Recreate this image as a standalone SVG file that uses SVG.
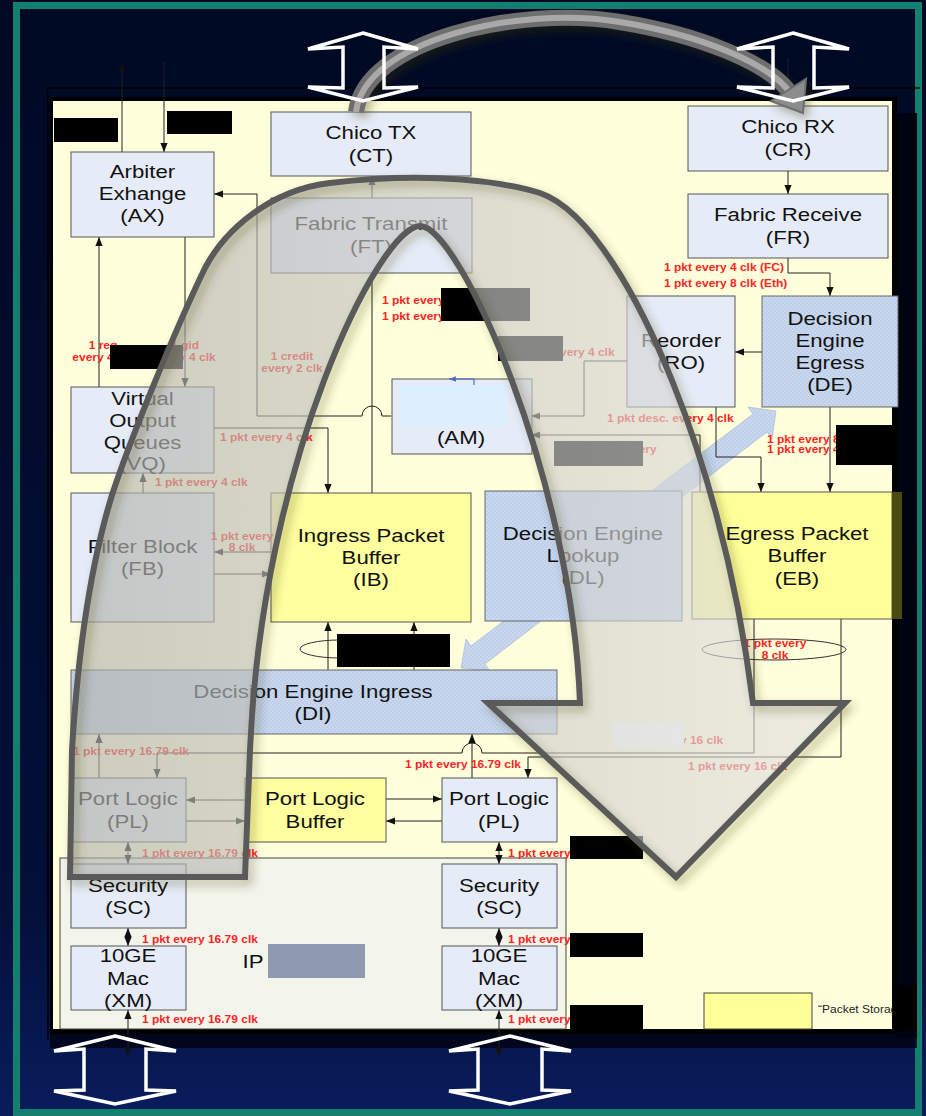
<svg xmlns="http://www.w3.org/2000/svg" width="926" height="1116" viewBox="0 0 926 1116">
<defs>
<linearGradient id="bg" x1="0" y1="0" x2="0" y2="1"><stop offset="0" stop-color="#000923"/><stop offset="0.8" stop-color="#020f38"/><stop offset="1" stop-color="#0a1c5c"/></linearGradient>
<linearGradient id="ov" gradientUnits="userSpaceOnUse" x1="70" y1="0" x2="845" y2="0"><stop offset="0" stop-color="#b2b2ac"/><stop offset="1" stop-color="#e2e2e2"/></linearGradient>
<pattern id="dots" width="4" height="4" patternUnits="userSpaceOnUse"><rect width="4" height="4" fill="#c9d8ef"/><circle cx="1" cy="1" r="0.7" fill="#a9bfe0"/><circle cx="3" cy="3" r="0.7" fill="#a9bfe0"/></pattern>
<marker id="a" viewBox="0 0 10 10" refX="10" refY="5" markerWidth="9" markerHeight="9" markerUnits="userSpaceOnUse" orient="auto-start-reverse"><path d="M0,1 L10,5 L0,9 z" fill="#111"/></marker>
<marker id="ab" viewBox="0 0 10 10" refX="10" refY="5" markerWidth="7" markerHeight="7" markerUnits="userSpaceOnUse" orient="auto"><path d="M0,1 L10,5 L0,9 z" fill="#4472c4"/></marker>
<filter id="sh" filterUnits="userSpaceOnUse" x="0" y="0" width="926" height="1116"><feGaussianBlur in="SourceAlpha" stdDeviation="5"/><feOffset dx="4" dy="5" result="b"/><feFlood flood-color="#3a3a10" flood-opacity="0.35"/><feComposite in2="b" operator="in"/><feMerge><feMergeNode/><feMergeNode in="SourceGraphic"/></feMerge></filter>
<style>
.bx{fill:#e6ecf7;stroke:#555;stroke-width:1}
.yb{fill:#ffffa0;stroke:#555;stroke-width:1}
.pt{fill:url(#dots);stroke:#666;stroke-width:1}
.t{font-family:"Liberation Sans",Arial,sans-serif;font-size:18.5px;fill:#111;text-anchor:middle}
.r{font-family:"Liberation Sans",Arial,sans-serif;font-size:10px;font-weight:bold;fill:#ff2424}
.m{text-anchor:middle}
.ln{fill:none;stroke:#222;stroke-width:1}
.ar{marker-end:url(#a)}
.da{marker-start:url(#a);marker-end:url(#a)}
.bk{fill:#000}
.wa{fill:none;stroke:#fff;stroke-width:3.5;stroke-linejoin:miter}
.ba{fill:url(#dots);stroke:#9fb4d8;stroke-width:0.6}
</style>
</defs>

<!-- background and frame -->
<rect x="0" y="0" width="926" height="1116" fill="url(#bg)"/>
<rect x="16.5" y="5.5" width="902" height="1107" fill="none" stroke="#13806f" stroke-width="7"/>
<path d="M48,1040 V88 H920" fill="none" stroke="#000" stroke-width="1.5"/>
<rect x="50" y="97" width="847" height="937" fill="#000"/>
<rect x="897" y="113" width="20" height="925" fill="#000410"/>
<rect x="50" y="1034" width="867" height="14" fill="#000310" opacity="0.8"/>
<rect x="53" y="101" width="839" height="928" fill="#ffffdc"/>

<g id="ip">
<rect x="60" y="858" width="506" height="171" fill="#f3f4ea" stroke="#444" stroke-width="1"/>
<text class="t" transform="matrix(1.2 0 0 1 253 0)" x="0" y="968">IP</text>
<rect x="268" y="944" width="97" height="34" fill="#8f9ab0"/>
</g>

<g id="connectors">
<polygon class="ba" points="776,411 772,439 767,432 664,511 650,492 753,414 748,407"/>
<polygon class="ba" points="461,668 490,671 485,664 580,591 566,573 471,646 466,639"/>
<path class="ln ar" d="M122,152 V63"/>
<path class="ln ar" d="M164,62 V152"/>
<path class="ln ar" d="M391,416 H382 A10,10 0 0 0 362,416 H257 V194 H214"/>
<path class="ln ar" d="M185,237 V387"/>
<path class="ln ar" d="M99,387 V237"/>
<path class="ln ar" d="M214,428 H328 V493"/>
<path class="ln ar" d="M143,493 V473"/>
<path class="ln ar" d="M271,552 H214"/>
<path class="ln ar" d="M214,574 H271"/>
<path class="ln ar" d="M372,493 V176"/>
<path class="ln ar" d="M788,171 V194"/>
<path class="ln ar" d="M788,258 V273 H830 V296"/>
<path class="ln ar" d="M762,352 H735"/>
<path class="ln ar" d="M627,361 H584 V416 H531"/>
<path class="ln ar" d="M700,492 V435 H531"/>
<path class="ln ar" d="M716,407 V457 H761 V492"/>
<path class="ln ar" d="M830,407 V492"/>
<path class="ln ar" d="M328,670 V622"/>
<path class="ln ar" d="M414,670 V622"/>
<path class="ln ar" d="M754,619 V753 H482 A10,10 0 0 0 462,753 H157 V778"/>
<path class="ln ar" d="M841,619 V757 H528 V778"/>
<path class="ln ar" d="M472,778 V734"/>
<path class="ln ar" d="M99,778 V734"/>
<path class="ln ar" d="M245,800 H186"/>
<path class="ln ar" d="M186,821 H245"/>
<path class="ln ar" d="M386,799 H442"/>
<path class="ln ar" d="M442,821 H386"/>
<path class="ln da" d="M128,842 V864"/>
<path class="ln da" d="M128,928 V946"/>
<path class="ln da" d="M128,1010 V1056"/>
<path class="ln da" d="M499,842 V864"/>
<path class="ln da" d="M499,928 V946"/>
<path class="ln da" d="M499,1010 V1056"/>
<path class="ln ar" d="M788,58 V106"/>
</g>

<g id="ax"><rect class="bx" x="71" y="152" width="143" height="85"/><text class="t" transform="matrix(1.2 0 0 1 142.5 0)"><tspan x="0" y="178">Arbiter</tspan><tspan x="0" y="200">Exhange</tspan><tspan x="0" y="222">(AX)</tspan></text></g>
<g id="ct"><rect class="bx" x="271" y="112" width="200" height="64"/><text class="t" transform="matrix(1.2 0 0 1 371 0)"><tspan x="0" y="139">Chico TX</tspan><tspan x="0" y="162">(CT)</tspan></text></g>
<g id="cr"><rect class="bx" x="688" y="106" width="200" height="65"/><text class="t" transform="matrix(1.2 0 0 1 788 0)"><tspan x="0" y="133">Chico RX</tspan><tspan x="0" y="156">(CR)</tspan></text></g>
<g id="fr"><rect class="bx" x="688" y="194" width="200" height="64"/><text class="t" transform="matrix(1.2 0 0 1 788 0)"><tspan x="0" y="221">Fabric Receive</tspan><tspan x="0" y="244">(FR)</tspan></text></g>
<g id="ft"><rect class="bx" x="271" y="198" width="201" height="75"/><text class="t" transform="matrix(1.2 0 0 1 371 0)"><tspan x="0" y="230">Fabric Transmit</tspan><tspan x="0" y="253">(FT)</tspan></text></g>
<g id="vq"><rect class="bx" x="71" y="387" width="143" height="86"/><text class="t" transform="matrix(1.2 0 0 1 142.5 0)"><tspan x="0" y="405">Virtual</tspan><tspan x="0" y="427">Output</tspan><tspan x="0" y="449">Queues</tspan><tspan x="0" y="470">(VQ)</tspan></text></g>
<g id="ro"><rect class="bx" x="627" y="296" width="108" height="111"/><text class="t" transform="matrix(1.2 0 0 1 681 0)"><tspan x="0" y="347">Reorder</tspan><tspan x="0" y="369">(RO)</tspan></text></g>
<g id="de"><rect class="pt" x="762" y="296" width="136" height="111"/><text class="t" transform="matrix(1.2 0 0 1 830 0)"><tspan x="0" y="325">Decision</tspan><tspan x="0" y="347">Engine</tspan><tspan x="0" y="369">Egress</tspan><tspan x="0" y="391">(DE)</tspan></text></g>
<g id="am"><rect class="bx" x="392" y="379" width="140" height="75"/><rect x="400" y="385" width="106" height="41" fill="#dcefff"/><path d="M474,385 V379 H449" fill="none" stroke="#4472c4" stroke-width="1.2" marker-end="url(#ab)"/><text class="t" transform="matrix(1.2 0 0 1 461 0)" x="0" y="444">(AM)</text></g>
<g id="fb"><rect class="bx" x="71" y="493" width="143" height="129"/><text class="t" transform="matrix(1.2 0 0 1 142.5 0)"><tspan x="0" y="553">Filter Block</tspan><tspan x="0" y="575">(FB)</tspan></text></g>
<g id="ib"><rect class="yb" x="271" y="493" width="200" height="129"/><text class="t" transform="matrix(1.2 0 0 1 371 0)"><tspan x="0" y="542">Ingress Packet</tspan><tspan x="0" y="564">Buffer</tspan><tspan x="0" y="586">(IB)</tspan></text></g>
<g id="dl"><rect class="pt" x="485" y="491" width="197" height="130"/><text class="t" transform="matrix(1.2 0 0 1 583 0)"><tspan x="0" y="540">Decision Engine</tspan><tspan x="0" y="562">Lookup</tspan><tspan x="0" y="584">(DL)</tspan></text></g>
<g id="eb"><rect x="692" y="492" width="200" height="127" fill="#ffff99" stroke="#555"/><rect x="892" y="492" width="10" height="127" fill="#4b4a10"/><text class="t" transform="matrix(1.2 0 0 1 797 0)"><tspan x="0" y="540">Egress Packet</tspan><tspan x="0" y="562">Buffer</tspan><tspan x="0" y="585">(EB)</tspan></text></g>
<g id="di"><rect class="pt" x="71" y="670" width="486" height="64"/><text class="t" transform="matrix(1.2 0 0 1 313 0)"><tspan x="0" y="698">Decision Engine Ingress</tspan><tspan x="0" y="720">(DI)</tspan></text></g>
<g id="pl1"><rect class="bx" x="71" y="778" width="115" height="64"/><text class="t" transform="matrix(1.2 0 0 1 128 0)"><tspan x="0" y="805">Port Logic</tspan><tspan x="0" y="828">(PL)</tspan></text></g>
<g id="plb"><rect class="yb" x="245" y="778" width="141" height="64"/><text class="t" transform="matrix(1.2 0 0 1 315 0)"><tspan x="0" y="805">Port Logic</tspan><tspan x="0" y="828">Buffer</tspan></text></g>
<g id="pl2"><rect class="bx" x="442" y="778" width="115" height="64"/><text class="t" transform="matrix(1.2 0 0 1 499 0)"><tspan x="0" y="805">Port Logic</tspan><tspan x="0" y="828">(PL)</tspan></text></g>
<g id="sc1"><rect class="bx" x="71" y="864" width="115" height="64"/><text class="t" transform="matrix(1.2 0 0 1 128 0)"><tspan x="0" y="892">Security</tspan><tspan x="0" y="914">(SC)</tspan></text></g>
<g id="sc2"><rect class="bx" x="442" y="864" width="115" height="64"/><text class="t" transform="matrix(1.2 0 0 1 499 0)"><tspan x="0" y="892">Security</tspan><tspan x="0" y="914">(SC)</tspan></text></g>
<g id="xm1"><rect class="bx" x="71" y="946" width="115" height="64"/><text class="t" transform="matrix(1.2 0 0 1 128 0)"><tspan x="0" y="962">10GE</tspan><tspan x="0" y="985">Mac</tspan><tspan x="0" y="1007">(XM)</tspan></text></g>
<g id="xm2"><rect class="bx" x="442" y="946" width="115" height="64"/><text class="t" transform="matrix(1.2 0 0 1 499 0)"><tspan x="0" y="962">10GE</tspan><tspan x="0" y="985">Mac</tspan><tspan x="0" y="1007">(XM)</tspan></text></g>
<g id="legend"><rect x="704" y="993" width="108" height="36" fill="#ffff99" stroke="#444"/><text transform="matrix(1.2 0 0 1 818 0)" x="0" y="1013" font-family="Liberation Sans, Arial, sans-serif" font-size="10" fill="#222">“Packet Storage”</text><rect x="893" y="985" width="24" height="46" fill="#000" opacity="0.9"/></g>

<g id="labels">
<ellipse cx="340" cy="649" rx="40" ry="9" fill="none" stroke="#333" stroke-width="1"/>
<ellipse cx="774" cy="649.5" rx="72" ry="10.5" fill="none" stroke="#333" stroke-width="1"/>
<text class="r m" transform="matrix(1.2 0 0 1 103 0)"><tspan x="0" y="349">1 req</tspan><tspan x="0" y="361">every 4 clk</tspan></text>
<text class="r m" transform="matrix(1.2 0 0 1 185 0)"><tspan x="0" y="349">1 gid</tspan><tspan x="0" y="361">every 4 clk</tspan></text>
<text class="r m" transform="matrix(1.2 0 0 1 292 0)"><tspan x="0" y="360">1 credit</tspan><tspan x="0" y="372">every 2 clk</tspan></text>
<text class="r m" transform="matrix(1.2 0 0 1 242 0)"><tspan x="0" y="540">1 pkt every</tspan><tspan x="0" y="551">8 clk</tspan></text>
<text class="r m" transform="matrix(1.2 0 0 1 775 0)"><tspan x="0" y="647">1 pkt every</tspan><tspan x="0" y="659">8 clk</tspan></text>
<text class="r" transform="matrix(1.2 0 0 1 220 0)" y="441">1 pkt every 4 clk</text>
<text class="r" transform="matrix(1.2 0 0 1 155 0)" y="486">1 pkt every 4 clk</text>
<text class="r" transform="matrix(1.2 0 0 1 382 0)" y="304">1 pkt every</text>
<text class="r" transform="matrix(1.2 0 0 1 382 0)" y="320">1 pkt every</text>
<text class="r" transform="matrix(1.2 0 0 1 664 0)" y="271">1 pkt every 4 clk (FC)</text>
<text class="r" transform="matrix(1.2 0 0 1 664 0)" y="287">1 pkt every 8 clk (Eth)</text>
<text class="r" transform="matrix(1.2 0 0 1 522 0)" y="356">1 pkt every 4 clk</text>
<text class="r" transform="matrix(1.2 0 0 1 607 0)" y="422">1 pkt desc. every 4 clk</text>
<text class="r" transform="matrix(1.2 0 0 1 594 0)" y="453">1 pkt every</text>
<text class="r" transform="matrix(1.2 0 0 1 767 0)" y="443">1 pkt every 8</text>
<text class="r" transform="matrix(1.2 0 0 1 767 0)" y="453">1 pkt every 4</text>
<text class="r" transform="matrix(1.2 0 0 1 624 0)" y="744">1 pkt every 16 clk</text>
<text class="r" transform="matrix(1.2 0 0 1 688 0)" y="770">1 pkt every 16 clk</text>
<text class="r" transform="matrix(1.2 0 0 1 405 0)" y="768">1 pkt every 16.79 clk</text>
<text class="r" transform="matrix(1.2 0 0 1 73 0)" y="755">1 pkt every 16.79 clk</text>
<text class="r" transform="matrix(1.2 0 0 1 142 0)" y="857">1 pkt every 16.79 clk</text>
<text class="r" transform="matrix(1.2 0 0 1 142 0)" y="943">1 pkt every 16.79 clk</text>
<text class="r" transform="matrix(1.2 0 0 1 142 0)" y="1023">1 pkt every 16.79 clk</text>
<text class="r" transform="matrix(1.2 0 0 1 508 0)" y="857">1 pkt every</text>
<text class="r" transform="matrix(1.2 0 0 1 508 0)" y="943">1 pkt every</text>
<text class="r" transform="matrix(1.2 0 0 1 508 0)" y="1023">1 pkt every</text>
</g>

<g id="redactions">
<rect class="bk" x="54" y="118" width="64" height="24"/>
<rect class="bk" x="167" y="111" width="65" height="23"/>
<rect class="bk" x="441" y="288" width="89" height="33"/>
<rect class="bk" x="498" y="336" width="65" height="25"/>
<rect class="bk" x="110" y="345" width="73" height="24"/>
<rect class="bk" x="554" y="441" width="89" height="25"/>
<rect class="bk" x="836" y="425" width="59" height="40"/>
<rect class="bk" x="337" y="634" width="113" height="33"/>
<rect class="bk" x="570" y="836" width="73" height="23"/>
<rect class="bk" x="570" y="933" width="73" height="24"/>
<rect class="bk" x="570" y="1005" width="73" height="24"/>
<rect x="612" y="723" width="72" height="24" fill="#fff"/>
</g>

<g id="flow-overlay">
<path d="M70,877 L72,750 C78,650 92,560 112,495 C130,440 175,330 205,268 C225,230 270,190 330,183 C400,175 480,175 540,193 C590,210 640,300 673,383 C700,450 735,560 753,703 L845,703 L676,877 L488,703 L580,703 C572,480 460,226 420,226 C380,226 262,460 250,750 L245,877 Z" fill="url(#ov)" fill-opacity="0.65"/>
<path d="M70,877 L72,750 C78,650 92,560 112,495 C130,440 175,330 205,268 C225,230 270,190 330,183 C400,175 480,175 540,193 C590,210 640,300 673,383 C700,450 735,560 753,703 L845,703 L676,877 L488,703 L580,703 C572,480 460,226 420,226 C380,226 262,460 250,750 L245,877 Z" fill="none" stroke="#5a5a5a" stroke-width="6" stroke-linejoin="miter" filter="url(#sh)"/>
</g>

<g id="fabric-arrow" filter="url(#sh)">
<path d="M356,112 C365,40 520,5 620,22 C700,35 765,62 788,90" fill="none" stroke="#6e6e6e" stroke-width="16"/>
<path d="M356,112 C365,40 520,5 620,22 C700,35 765,62 788,90" fill="none" stroke="#a9a9a9" stroke-width="6"/>
<polygon points="803,113 806,79 771,101" fill="#8c8c8c" stroke="#6e6e6e" stroke-width="2"/>
</g>

<g id="io-arrows">
<polygon class="wa" points="363,33 418,49 384,47 384,88 418,87 363,101 308,87 343,88 343,47 308,49"/>
<polygon class="wa" points="793,33 849,49 814,47 814,88 849,87 793,101 737,87 773,88 773,47 737,49"/>
<polygon class="wa" points="115,1036 176,1051 146,1049 146,1090 176,1091 115,1104 54,1091 84,1090 84,1049 54,1051"/>
<polygon class="wa" points="510,1036 571,1051 542,1049 542,1090 571,1091 510,1104 449,1091 478,1090 478,1049 449,1051"/>
</g>
</svg>
